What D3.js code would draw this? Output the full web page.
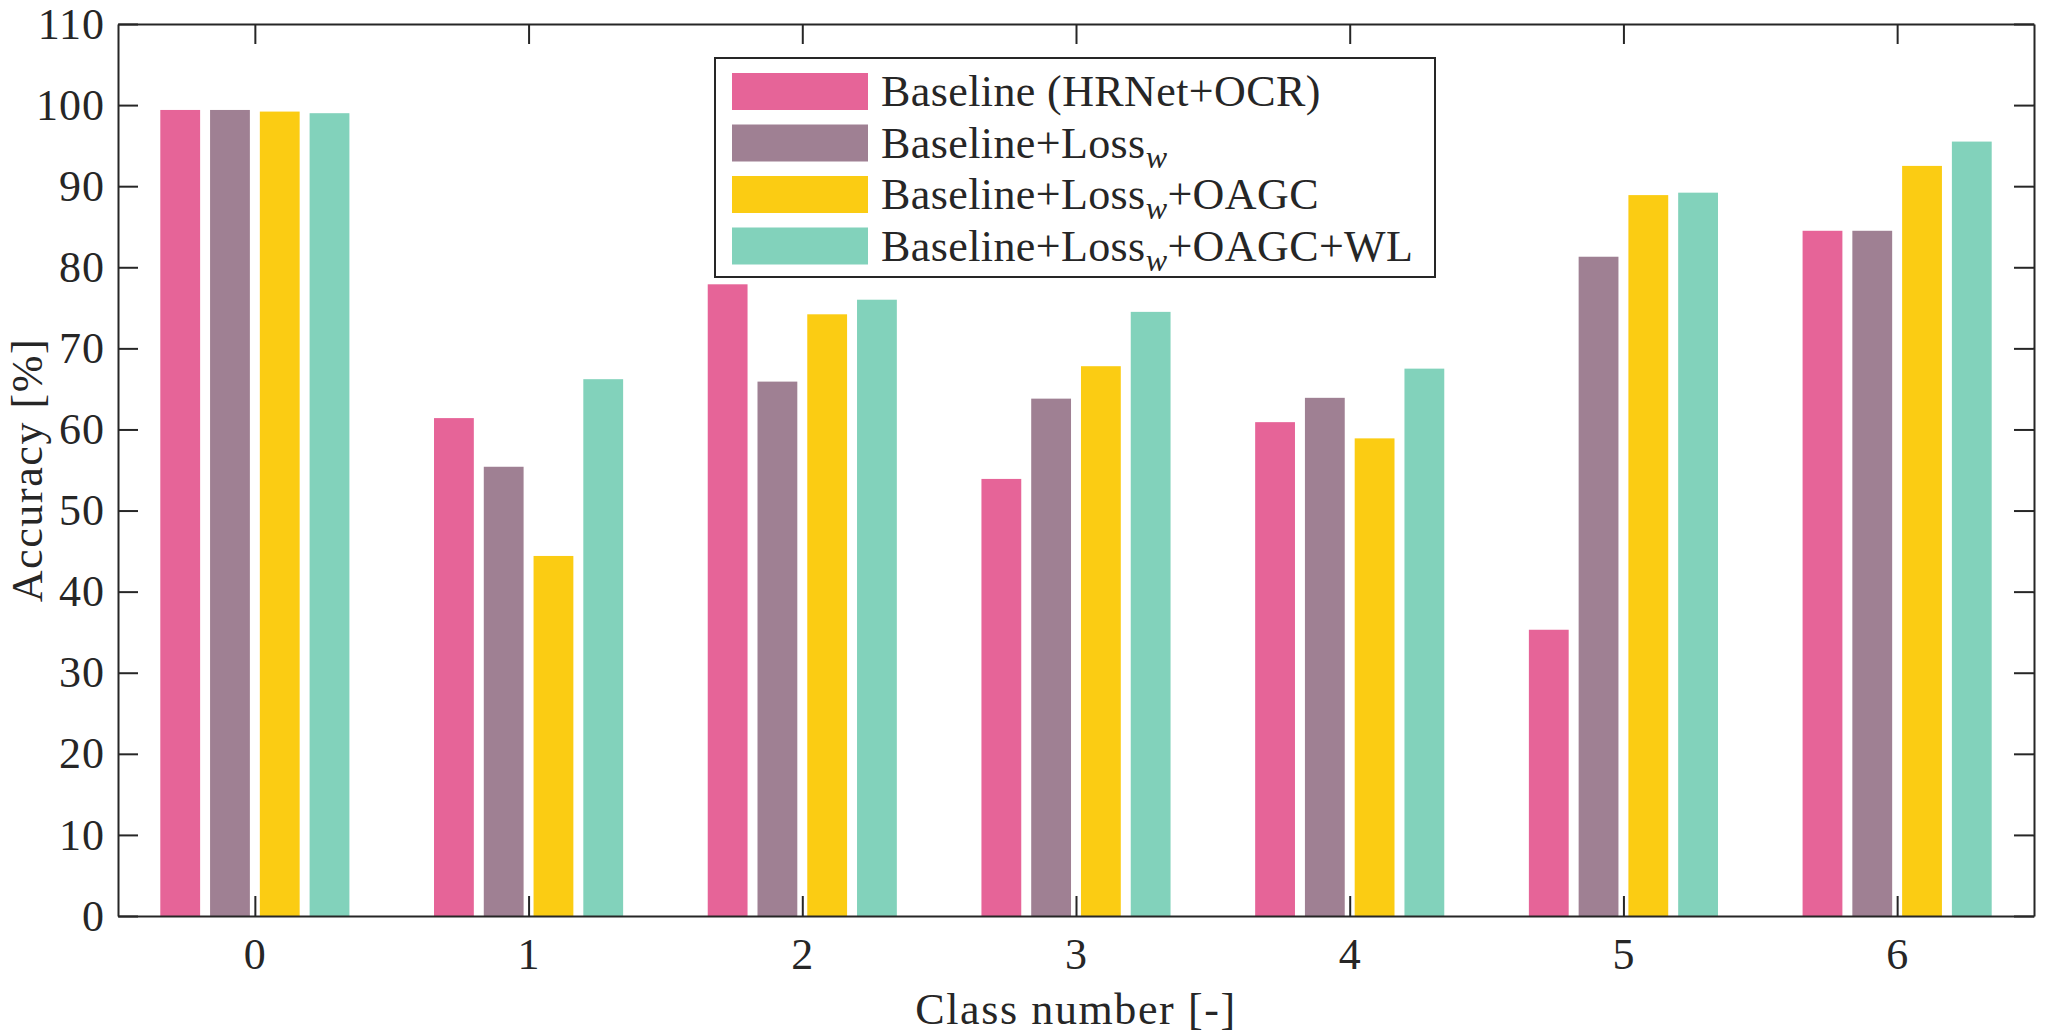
<!DOCTYPE html>
<html>
<head>
<meta charset="utf-8">
<script src="https://cdn.jsdelivr.net/npm/d3@7"></script>
<style>
  html, body { margin: 0; padding: 0; background: #fff; }
  svg { display: block; }
  text { font-family: "Liberation Serif", "DejaVu Serif", serif; fill: #262626; }
</style>
</head>
<body>
<svg id="chart" width="2047" height="1036"></svg>
<script>
const classes = [0, 1, 2, 3, 4, 5, 6];
const seriesNames = ["Baseline (HRNet+OCR)", "Baseline+Loss_w", "Baseline+Loss_w+OAGC", "Baseline+Loss_w+OAGC+WL"];
const baseline      = [99.4, 61.4, 77.9, 53.9, 60.9, 35.3, 84.5];
const baselineLossW = [99.4, 55.4, 65.9, 63.8, 63.9, 81.3, 84.5];
const lossWOAGC     = [99.2, 44.4, 74.2, 67.8, 58.9, 88.9, 92.5];
const lossWOAGCWL   = [99.0, 66.2, 76.0, 74.5, 67.5, 89.2, 95.5];
const yTicks = [0, 10, 20, 30, 40, 50, 60, 70, 80, 90, 100, 110];
const colors = ["#e66498", "#9f8093", "#fbcc13", "#82d2bb"];

const series = [baseline, baselineLossW, lossWOAGC, lossWOAGCWL];

const svg = d3.select("#chart");
const L = 118, R = 2034, T = 24, B = 916;
const x = d3.scaleLinear().domain([-0.5, 6.5]).range([L, R]);
const y = d3.scaleLinear().domain([0, 110]).range([B, T]);

const nS = series.length;
const groupW = Math.min(0.8, nS / (nS + 1.5));
const slot = groupW / nS;
const barW = slot * 0.8;

// bars
series.forEach((vals, si) => {
  const off = (si - (nS - 1) / 2) * slot;
  svg.append("g").selectAll("rect").data(vals).join("rect")
    .attr("x", (d, i) => x(classes[i] + off - barW / 2))
    .attr("width", x(barW) - x(0))
    .attr("y", d => y(d))
    .attr("height", d => y(0) - y(d))
    .attr("fill", colors[si]);
});

const axisColor = "#262626";
const tickLen = 20;
const FS = "44px";
// axes with inward ticks
const gL = svg.append("g").attr("transform", `translate(${L},0)`)
  .call(d3.axisLeft(y).tickValues(yTicks).tickSizeInner(-tickLen).tickSizeOuter(0).tickPadding(13));
const gR = svg.append("g").attr("transform", `translate(${R},0)`)
  .call(d3.axisRight(y).tickValues(yTicks).tickSizeInner(-tickLen).tickSizeOuter(0).tickFormat(""));
const gB = svg.append("g").attr("transform", `translate(0,${B})`)
  .call(d3.axisBottom(x).tickValues(classes).tickSizeInner(-tickLen).tickSizeOuter(0).tickFormat(d3.format("d")));
const gT = svg.append("g").attr("transform", `translate(0,${T})`)
  .call(d3.axisTop(x).tickValues(classes).tickSizeInner(-tickLen).tickSizeOuter(0).tickFormat(""));

[gL, gR, gB, gT].forEach(g => {
  g.selectAll("path.domain").attr("stroke", axisColor).attr("stroke-width", 2);
  g.selectAll(".tick line").attr("stroke", axisColor).attr("stroke-width", 2);
  g.selectAll(".tick text").attr("fill", axisColor)
    .style("font-family", '"Liberation Serif", serif').style("font-size", FS)
    .style("letter-spacing", "1px");
});
gB.selectAll(".tick text").attr("dy", "0").attr("y", 53);

// axis labels
svg.append("text")
  .attr("x", (L + R) / 2).attr("y", 1024)
  .attr("text-anchor", "middle")
  .style("font-size", FS).style("letter-spacing", "1.6px")
  .text("Class number [-]");
svg.append("text")
  .attr("transform", `translate(42,${(T + B) / 2}) rotate(-90)`)
  .attr("text-anchor", "middle")
  .style("font-size", FS).style("letter-spacing", "1.6px")
  .text("Accuracy [%]");

// legend
const lg = svg.append("g");
lg.append("rect").attr("x", 715).attr("y", 58).attr("width", 720).attr("height", 219)
  .attr("fill", "#fff").attr("stroke", axisColor).attr("stroke-width", 2);
const rowTop = [73, 124.5, 176, 227.5];
const legendParts = [
  [["Baseline (HRNet+OCR)", false]],
  [["Baseline+Loss", false], ["w", true]],
  [["Baseline+Loss", false], ["w", true], ["+OAGC", false]],
  [["Baseline+Loss", false], ["w", true], ["+OAGC+WL", false]]
];
legendParts.forEach((parts, i) => {
  lg.append("rect").attr("x", 732).attr("y", rowTop[i]).attr("width", 136).attr("height", 37)
    .attr("fill", colors[i]);
  const t = lg.append("text").attr("x", 881).attr("y", rowTop[i] + 33)
    .style("font-size", FS).style("letter-spacing", "0.4px");
  parts.forEach(([s, sub], k) => {
    if (sub) {
      t.append("tspan").text(s).attr("dy", 10).style("font-size", "32px").style("font-style", "italic");
    } else {
      const ts = t.append("tspan").text(s);
      if (k > 0) ts.attr("dy", -10);
    }
  });
});
</script>
</body>
</html>
